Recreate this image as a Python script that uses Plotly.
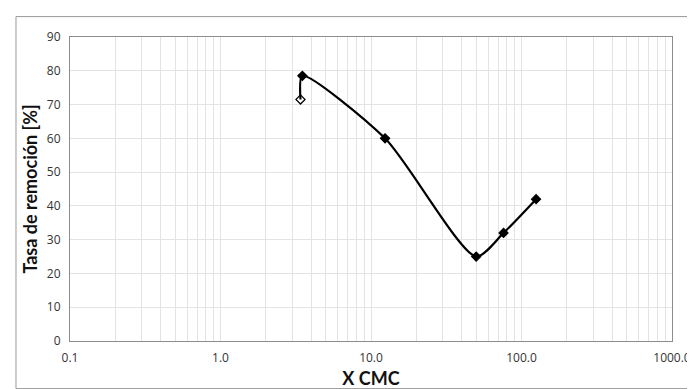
import plotly.graph_objects as go

# data
x_cmc = [3.4, 3.5, 12.4, 50, 76, 125]
removal = [71.5, 78.5, 60, 25, 32, 42]
marker_symbols = ['diamond-open', 'diamond', 'diamond', 'diamond', 'diamond', 'diamond']

x_tickvals = [0.1, 1, 10, 100, 1000]
x_ticktext = ['0.1', '1.0', '10.0', '100.0', '1000.0']
y_tickvals = [0, 10, 20, 30, 40, 50, 60, 70, 80, 90]

W, H = 695, 389
L, R, T, B = 62, 20, 29, 47
pw, ph = W - L - R, H - T - B

fig = go.Figure()

fig.add_trace(go.Scatter(
    x=x_cmc,
    y=removal,
    mode='lines+markers',
    line=dict(color='black', width=2.2, shape='spline', smoothing=0.7),
    marker=dict(symbol=marker_symbols, size=7, color='black',
                line=dict(color='black', width=1.2)),
    showlegend=False
))

grid = '#e3e3e3'
axis_col = '#8c8c8c'
title_font = dict(family='Lato, sans-serif', size=18, color='#111')

fig.update_layout(
    width=W, height=H,
    margin=dict(l=L, r=R, t=T, b=B),
    paper_bgcolor='white',
    plot_bgcolor='white',
    font=dict(family='Open Sans, sans-serif', size=12, color='#333'),
    xaxis=dict(
        type='log',
        range=[-1, 3],
        tickvals=x_tickvals,
        ticktext=x_ticktext,
        showgrid=True, gridcolor=grid, gridwidth=1,
        minor=dict(showgrid=True, gridcolor=grid, gridwidth=1, dtick='D1'),
        showline=True, linecolor=axis_col, linewidth=1, mirror=True,
        ticks='', ticklabelstandoff=6,
        title=dict(text='<b>X CMC</b>', font=title_font, standoff=6),
        zeroline=False,
    ),
    yaxis=dict(
        range=[0, 90],
        tickvals=y_tickvals,
        showgrid=True, gridcolor=grid, gridwidth=1,
        showline=True, linecolor=axis_col, linewidth=1, mirror=True,
        ticks='', ticklabelstandoff=6,
        title=dict(text='<b>Tasa de remoción [%]</b>', font=title_font, standoff=4),
        zeroline=False,
    ),
)

# outer chart border
fig.add_shape(
    type='rect', xref='paper', yref='paper',
    x0=(7 - L) / pw, x1=(W + 2 - L) / pw,
    y0=(H - B - (H + 2)) / ph, y1=(H - B - 8) / ph,
    line=dict(color='#999', width=1), fillcolor='rgba(0,0,0,0)', layer='below'
)

fig.write_html('out.html')
